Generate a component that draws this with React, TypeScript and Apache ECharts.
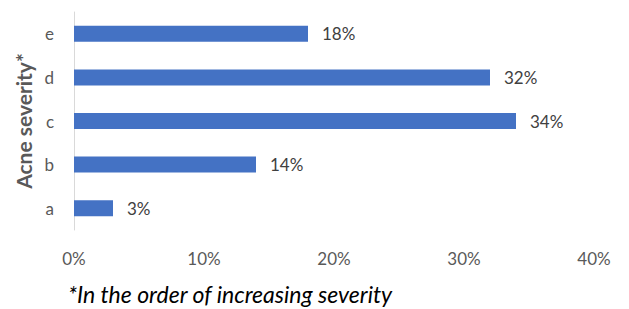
import React, { useEffect, useRef } from "react";
import * as echarts from "echarts";

const categories = ["a", "b", "c", "d", "e"];
const values = [3, 14, 34, 32, 18];
const xTicks = [0, 10, 20, 30, 40];
const yTitle = "Acne severity*";
const footnote = "*In the order of increasing severity";

export default function App() {
  const ref = useRef<HTMLDivElement>(null);
  useEffect(() => {
    if (!ref.current) return;
    const chart = echarts.init(ref.current, null, { renderer: "svg" });
    const font = "Lato, 'Noto Sans', sans-serif";
    chart.setOption({
      animation: false,
      backgroundColor: "#ffffff",
      textStyle: { fontFamily: font },
      grid: { left: 74, right: 35, top: 12, bottom: 79, containLabel: false },
      xAxis: {
        type: "value",
        min: xTicks[0],
        max: xTicks[xTicks.length - 1],
        interval: 10,
        axisLine: { show: false },
        axisTick: { show: false },
        splitLine: { show: false },
        axisLabel: {
          formatter: (v: number) => v + "%",
          color: "#595959",
          fontSize: 17,
          margin: 20,
          fontFamily: font,
        },
      },
      yAxis: {
        type: "category",
        data: categories,
        name: yTitle,
        nameLocation: "middle",
        nameGap: 38,
        nameRotate: 90,
        nameTextStyle: { fontSize: 21, fontWeight: "bold", color: "#595959", fontFamily: font },
        axisLine: { show: true, lineStyle: { color: "#d9d9d9", width: 1 } },
        axisTick: { show: false },
        axisLabel: { color: "#595959", fontSize: 17, margin: 20, fontFamily: font },
      },
      series: [
        {
          type: "bar",
          data: values,
          barWidth: 16,
          itemStyle: { color: "#4472c4" },
          label: {
            show: true,
            position: "right",
            distance: 14,
            formatter: (p: any) => p.value + "%",
            color: "#404040",
            fontSize: 17,
            fontFamily: font,
          },
        },
      ],
      graphic: [
        {
          type: "text",
          left: 68,
          top: 282,
          style: {
            text: footnote,
            font: "italic 23px " + font,
            fill: "#000000",
          },
        },
      ],
    });
    return () => chart.dispose();
  }, []);
  return (
    <div
      ref={ref}
      style={{ position: "fixed", left: 0, top: 0, width: 629, height: 309 }}
    />
  );
}
